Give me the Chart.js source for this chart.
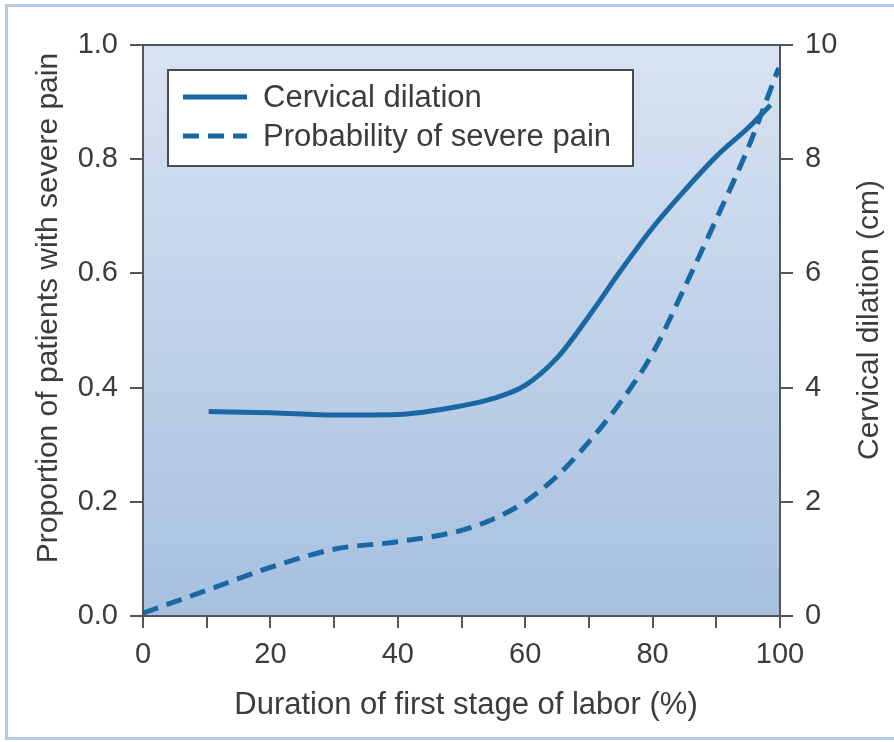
<!DOCTYPE html>
<html>
<head>
<meta charset="utf-8">
<script src="https://cdn.jsdelivr.net/npm/chart.js@4"></script>
<style>
  html, body { margin: 0; padding: 0; background: #fff; }
  #wrap { width: 894px; height: 742px; }
</style>
</head>
<body>
<div id="wrap"><canvas id="chart" width="894" height="742"></canvas></div>
<script>
// Cervical dilation (cm) vs duration of first stage of labor (%)
const dilationX  = [10.3, 20, 30, 40, 50, 55, 60, 65, 70, 75, 80, 85, 90, 95, 98.5];
const dilationCm = [3.58, 3.56, 3.52, 3.53, 3.68, 3.81, 4.04, 4.52, 5.25, 6.05, 6.8, 7.45, 8.05, 8.55, 8.95];

// Probability of severe pain
const painX    = [0, 10, 20, 30, 40, 50, 55, 60, 65, 70, 75, 80, 85, 90, 95, 99.8];
const painProb = [0.005, 0.045, 0.085, 0.117, 0.13, 0.15, 0.17, 0.2, 0.245, 0.305, 0.375, 0.46, 0.575, 0.695, 0.82, 0.96];

const xTicks = [0, 20, 40, 60, 80, 100];

const FONT = '"Liberation Sans", Arial, Helvetica, sans-serif';
const TEXT = "#3c3c3c";
const AXIS = "#555555";
const LINE = "#1a68a3";

// ============== Background, frame, legend, axis titles ==============
const decorPlugin = {
  id: "decor",
  beforeDraw(chart) {
    const { ctx, chartArea: a } = chart;
    ctx.save();
    // outer frame
    ctx.strokeStyle = "#b3c9e4";
    ctx.lineWidth = 3;
    ctx.strokeRect(6.5, 5.5, 900, 733);
    // plot gradient
    const g = ctx.createLinearGradient(0, a.top, 0, a.bottom);
    g.addColorStop(0, "#d8e3f2");
    g.addColorStop(1, "#a7c0e0");
    ctx.fillStyle = g;
    ctx.fillRect(a.left, a.top, a.right - a.left, a.bottom - a.top);
    ctx.restore();
  },
  beforeDatasetsDraw(chart) {
    const { ctx, chartArea: a } = chart;
    ctx.save();
    // top border of plot
    ctx.strokeStyle = AXIS;
    ctx.lineWidth = 2;
    ctx.beginPath();
    ctx.moveTo(a.left, a.top);
    ctx.lineTo(a.right, a.top);
    ctx.stroke();

    // legend box
    ctx.fillStyle = "#ffffff";
    ctx.fillRect(168, 70, 465, 96);
    ctx.strokeStyle = "#4a4a4a";
    ctx.lineWidth = 2;
    ctx.strokeRect(168, 70, 465, 96);
    const rows = [97, 136];
    chart.data.datasets.forEach((ds, i) => {
      const y = rows[i];
      ctx.strokeStyle = ds.borderColor;
      ctx.lineWidth = ds.borderWidth;
      ctx.setLineDash(ds.borderDash || []);
      ctx.beginPath();
      ctx.moveTo(183, y);
      ctx.lineTo(247, y);
      ctx.stroke();
      ctx.setLineDash([]);
      ctx.fillStyle = TEXT;
      ctx.font = "31px " + FONT;
      ctx.textBaseline = "middle";
      ctx.textAlign = "left";
      ctx.fillText(ds.label, 263, y + 1);
    });
    ctx.restore();
  },
  afterDraw(chart) {
    const { ctx } = chart;
    ctx.save();
    ctx.fillStyle = TEXT;
    ctx.textAlign = "center";
    ctx.textBaseline = "alphabetic";
    // x title
    ctx.font = "31px " + FONT;
    ctx.fillText("Duration of first stage of labor (%)", 466, 714);
    ctx.font = "30px " + FONT;
    // left title
    ctx.save();
    ctx.translate(57, 308);
    ctx.rotate(-Math.PI / 2);
    ctx.fillText("Proportion of patients with severe pain", 0, 0);
    ctx.restore();
    // right title (reads bottom to top)
    ctx.save();
    ctx.translate(878, 320);
    ctx.rotate(-Math.PI / 2);
    ctx.fillText("Cervical dilation (cm)", 0, 0);
    ctx.restore();
    ctx.restore();
  }
};

// ============== Chart ==============
const tickFont = { family: FONT, size: 29 };

new Chart(document.getElementById("chart").getContext("2d"), {
  type: "line",
  data: {
    datasets: [
      {
        label: "Cervical dilation",
        data: dilationX.map((x, i) => ({ x, y: dilationCm[i] })),
        yAxisID: "y2",
        borderColor: LINE,
        borderWidth: 5,
        pointRadius: 0,
        cubicInterpolationMode: "monotone",
        borderCapStyle: "butt",
      },
      {
        label: "Probability of severe pain",
        data: painX.map((x, i) => ({ x, y: painProb[i] })),
        yAxisID: "y",
        borderColor: LINE,
        borderWidth: 5,
        borderDash: [16, 9],
        pointRadius: 0,
        cubicInterpolationMode: "monotone",
        borderCapStyle: "butt",
      }
    ]
  },
  options: {
    responsive: false,
    animation: false,
    devicePixelRatio: 1,
    layout: { padding: { top: 45, left: 0, right: 0, bottom: 0 } },
    plugins: {
      legend: { display: false },
      tooltip: { enabled: false },
    },
    scales: {
      x: {
        type: "linear",
        min: 0,
        max: 100,
        afterFit: s => { s.height = 126; },
        afterBuildTicks: s => { s.ticks = []; for (let v = 0; v <= 100; v += 10) s.ticks.push({ value: v }); },
        ticks: {
          autoSkip: false,
          maxRotation: 0,
          padding: 10,
          color: TEXT,
          font: tickFont,
          callback: v => (xTicks.includes(v) ? String(v) : ""),
        },
        grid: { drawOnChartArea: false, drawTicks: true, tickLength: 12, color: AXIS, lineWidth: 2 },
        border: { display: true, color: AXIS, width: 2 },
      },
      y: {
        position: "left",
        min: 0,
        max: 1,
        afterFit: s => { s.width = 143; },
        ticks: { stepSize: 0.2, padding: 12, color: TEXT, font: tickFont, callback: v => v.toFixed(1) },
        grid: { drawOnChartArea: false, drawTicks: true, tickLength: 13, color: AXIS, lineWidth: 2 },
        border: { display: true, color: AXIS, width: 2 },
      },
      y2: {
        position: "right",
        min: 0,
        max: 10,
        afterFit: s => { s.width = 114; },
        ticks: { stepSize: 2, padding: 12, color: TEXT, font: tickFont },
        grid: { drawOnChartArea: false, drawTicks: true, tickLength: 13, color: AXIS, lineWidth: 2 },
        border: { display: true, color: AXIS, width: 2 },
      }
    }
  },
  plugins: [decorPlugin]
});
</script>
</body>
</html>
